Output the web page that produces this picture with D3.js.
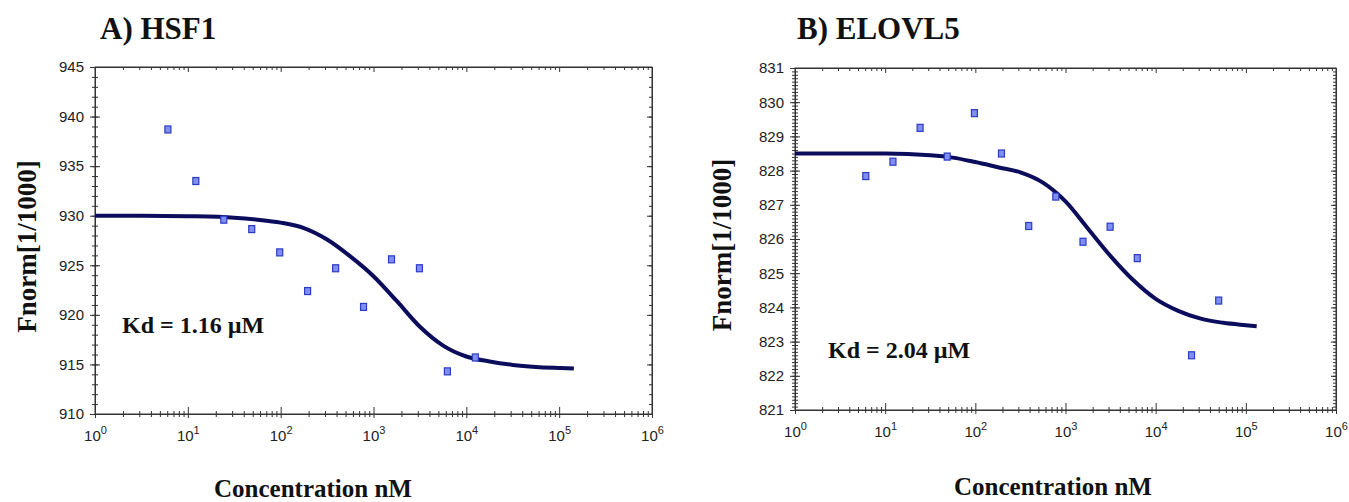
<!DOCTYPE html>
<html>
<head>
<meta charset="utf-8">
<script src="https://cdn.jsdelivr.net/npm/d3@7"></script>
<style>
  body { margin: 0; background: #fff; }
  .tick text { font-family: 'Liberation Sans Narrow', 'Arial Narrow', 'Liberation Sans', sans-serif; font-size: 15px; fill: #222; }
  .tick line, .domain { stroke: #333; }
  .bold-text { font-family: 'Liberation Serif', 'Times New Roman', serif; font-weight: bold; fill: #111; }
</style>
</head>
<body>
<script>
// measured points (concentration nM, Fnorm)
const concA = [6.1, 12.2, 24.4, 48.8, 97.7, 195, 391, 781, 1563, 3125, 6250, 12500];
const fnormA = [938.7, 933.5, 929.6, 928.65, 926.3, 922.4, 924.7, 920.8, 925.6, 924.7, 914.3, 915.7];

const concB = [6.1, 12.2, 24.4, 48.8, 97.7, 195, 391, 781, 1563, 3125, 6250, 25000, 50000];
const fnormB = [827.84, 828.26, 829.25, 828.41, 829.68, 828.5, 826.38, 827.24, 825.92, 826.36, 825.44, 822.6, 824.2];

// fit curves
const fitConcA = [1, 3.16, 10, 31.6, 56.2, 100, 178, 316, 562, 1000, 1778, 3162, 5623, 10000, 17783, 31623, 56234, 100000, 144000];
const fitA = [930.0, 930.0, 929.95, 929.8, 929.6, 929.3, 928.75, 927.6, 925.9, 923.9, 921.4, 918.8, 916.9, 915.8, 915.3, 914.95, 914.75, 914.65, 914.6];

const fitConcB = [1, 3.16, 10, 31.6, 56.2, 100, 178, 316, 562, 1000, 1778, 3162, 5623, 10000, 17783, 31623, 56234, 100000, 132000];
const fitB = [828.5, 828.5, 828.5, 828.45, 828.38, 828.25, 828.1, 827.95, 827.65, 827.1, 826.3, 825.5, 824.8, 824.25, 823.9, 823.67, 823.55, 823.48, 823.45];

const yTicksA = [910, 915, 920, 925, 930, 935, 940, 945];
const yTicksB = [821, 822, 823, 824, 825, 826, 827, 828, 829, 830, 831];
const xExponents = [0, 1, 2, 3, 4, 5, 6];

const w = 1349;
const h = 502;
const svg = d3.select('body')
              .append('svg')
              .attr('width', w)
              .attr('height', h);

const panels = [
  { title: 'A) HSF1', kd: 'Kd = 1.16 µM', conc: concA, vals: fnormA, fitX: fitConcA, fitY: fitA,
    yTicks: yTicksA, yMinorStep: 1,
    left: 95, right: 652, top: 67, bottom: 414,
    titleX: 100, yTitleX: 36, kdX: 122, kdY: 333, xTitleX: 313, xTitleY: 497 },
  { title: 'B) ELOVL5', kd: 'Kd = 2.04 µM', conc: concB, vals: fnormB, fitX: fitConcB, fitY: fitB,
    yTicks: yTicksB, yMinorStep: 0.1,
    left: 795, right: 1336, top: 68, bottom: 410,
    titleX: 797, yTitleX: 731, kdX: 828, kdY: 358, xTitleX: 1053, xTitleY: 495 }
];

const majorX = xExponents.map(e => Math.pow(10, e));
let minorX = [];
for (let e = 0; e < 6; e++) {
  for (let k = 2; k < 10; k++) minorX.push(k * Math.pow(10, e));
}

panels.forEach(p => {
  const pw = p.right - p.left;
  const ph = p.bottom - p.top;
  const yMin = p.yTicks[0];
  const yMax = p.yTicks[p.yTicks.length - 1];

  const xScale = d3.scaleLog()
                   .domain([1, 1e6])
                   .range([0, pw]);
  const yScale = d3.scaleLinear()
                   .domain([yMin, yMax])
                   .range([ph, 0]);

  let minorY = [];
  const n = Math.round((yMax - yMin) / p.yMinorStep);
  for (let i = 0; i <= n; i++) minorY.push(yMin + i * p.yMinorStep);

  const g = svg.append('g')
               .attr('transform', 'translate(' + p.left + ',' + p.top + ')');

  // box
  g.append('rect')
   .attr('width', pw)
   .attr('height', ph)
   .attr('fill', 'none')
   .attr('stroke', '#333');

  // left axis, ticks cross the line
  const yAxis = g.append('g')
                 .call(d3.axisLeft(yScale).tickValues(p.yTicks).tickSize(5).tickSizeOuter(0).tickPadding(6));
  yAxis.selectAll('.tick line').attr('x1', 5);
  const yMinorAxis = g.append('g')
                      .call(d3.axisLeft(yScale).tickValues(minorY).tickSize(3).tickSizeOuter(0).tickFormat(''));
  yMinorAxis.selectAll('.tick line').attr('x1', 3);

  // right border ticks inward
  g.append('g')
   .attr('transform', 'translate(' + pw + ',0)')
   .call(d3.axisLeft(yScale).tickValues(p.yTicks).tickSize(5).tickSizeOuter(0).tickFormat(''));
  g.append('g')
   .attr('transform', 'translate(' + pw + ',0)')
   .call(d3.axisLeft(yScale).tickValues(minorY).tickSize(3).tickSizeOuter(0).tickFormat(''));

  // bottom axis
  const xAxis = g.append('g')
                 .attr('transform', 'translate(0,' + ph + ')')
                 .call(d3.axisBottom(xScale).tickValues(majorX).tickSize(4).tickSizeOuter(0).tickPadding(12));
  xAxis.selectAll('.tick line').attr('y1', -7);
  xAxis.selectAll('.tick text').each(function (d) {
    const t = d3.select(this).text('');
    t.append('tspan').text('10');
    t.append('tspan')
     .attr('dy', '-0.6em')
     .attr('font-size', '11px')
     .text(Math.round(Math.log10(d)));
  });
  const xMinorAxis = g.append('g')
                      .attr('transform', 'translate(0,' + ph + ')')
                      .call(d3.axisBottom(xScale).tickValues(minorX).tickSize(3).tickSizeOuter(0).tickFormat(''));
  xMinorAxis.selectAll('.tick line').attr('y1', -3);

  // top border ticks inward
  g.append('g')
   .call(d3.axisBottom(xScale).tickValues(majorX).tickSize(5).tickSizeOuter(0).tickFormat(''));
  g.append('g')
   .call(d3.axisBottom(xScale).tickValues(minorX).tickSize(3).tickSizeOuter(0).tickFormat(''));

  // fit curve
  const line = d3.line()
                 .x(d => xScale(d[0]))
                 .y(d => yScale(d[1]))
                 .curve(d3.curveMonotoneX);
  g.append('path')
   .datum(p.fitX.map((c, i) => [c, p.fitY[i]]))
   .attr('d', line)
   .attr('fill', 'none')
   .attr('stroke', '#0c0c5c')
   .attr('stroke-width', 4);

  // points
  g.selectAll('rect.pt')
   .data(p.conc.map((c, i) => [c, p.vals[i]]))
   .enter()
   .append('rect')
   .attr('class', 'pt')
   .attr('x', d => xScale(d[0]) - 3)
   .attr('y', d => yScale(d[1]) - 3.5)
   .attr('width', 6)
   .attr('height', 7)
   .attr('fill', '#7f8ef0')
   .attr('stroke', '#2a3bc4')
   .attr('stroke-width', 1.2);

  // texts
  svg.append('text')
     .attr('class', 'bold-text')
     .attr('x', p.titleX)
     .attr('y', 39)
     .attr('font-size', 31)
     .text(p.title);

  svg.append('text')
     .attr('class', 'bold-text')
     .attr('transform', 'translate(' + p.yTitleX + ',' + (p.top + ph / 2 + 6) + ') rotate(-90)')
     .attr('text-anchor', 'middle')
     .attr('font-size', 27)
     .text('Fnorm[1/1000]');

  svg.append('text')
     .attr('class', 'bold-text')
     .attr('x', p.kdX)
     .attr('y', p.kdY)
     .attr('font-size', 24)
     .text(p.kd);

  svg.append('text')
     .attr('class', 'bold-text')
     .attr('x', p.xTitleX)
     .attr('y', p.xTitleY)
     .attr('text-anchor', 'middle')
     .attr('font-size', 25)
     .text('Concentration  nM');
});
</script>
</body>
</html>
